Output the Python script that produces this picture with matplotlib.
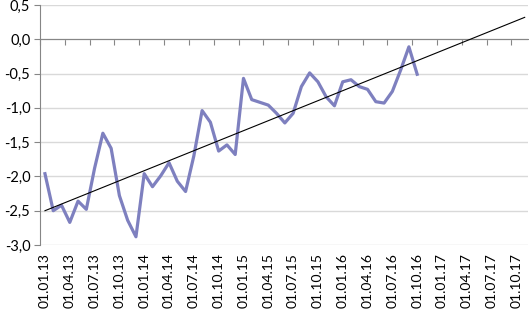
import matplotlib
matplotlib.use("Agg")
import matplotlib.pyplot as plt
import numpy as np

plt.rcParams['font.family'] = ['Lato', 'DejaVu Sans']

# monthly values, Jan 2013 .. Oct 2016
values = [-1.96, -2.50, -2.42, -2.67, -2.36, -2.48, -1.88, -1.37, -1.59, -2.28,
          -2.64, -2.88, -1.96, -2.15, -1.99, -1.80, -2.07, -2.22, -1.70, -1.04,
          -1.21, -1.63, -1.54, -1.68, -0.57, -0.88, -0.92, -0.96, -1.08, -1.22,
          -1.08, -0.69, -0.49, -0.62, -0.84, -0.97, -0.62, -0.59, -0.69, -0.73,
          -0.91, -0.93, -0.76, -0.45, -0.11, -0.51]
months = np.arange(len(values))

# linear trend (start/end)
trend_x = [0, 58]
trend_y = [-2.50, 0.32]

tick_labels = ['01.01.13', '01.04.13', '01.07.13', '01.10.13',
               '01.01.14', '01.04.14', '01.07.14', '01.10.14',
               '01.01.15', '01.04.15', '01.07.15', '01.10.15',
               '01.01.16', '01.04.16', '01.07.16', '01.10.16',
               '01.01.17', '01.04.17', '01.07.17', '01.10.17']
label_pos = np.arange(len(tick_labels)) * 3

fig = plt.figure(figsize=(5.29, 3.12), dpi=100)
ax = fig.add_axes([40/529, 1-245/312, 488/529, 240/312])

ax.plot(months, values, color='#7E80BF', lw=2.3, solid_joinstyle='round', zorder=3)
ax.plot(trend_x, trend_y, color='black', lw=0.8, zorder=4)

ax.set_ylim(-3.0, 0.5)
ax.set_xlim(-0.41, 58.4)
yt = np.arange(-3.0, 0.51, 0.5)
ax.set_yticks(yt)
ax.set_yticklabels([f"{v:.1f}".replace('.', ',') for v in yt], fontsize=10.5)
ax.yaxis.grid(True, color='#D9D9D9', lw=1)
ax.set_axisbelow(True)

for s in ['top', 'right']:
    ax.spines[s].set_visible(False)
ax.spines['left'].set_color('#868686')
ax.spines['bottom'].set_position(('data', 0))
ax.spines['bottom'].set_color('#868686')
ax.tick_params(axis='y', length=4, color='#868686', pad=3, labelcolor='black')
ax.set_xticks(label_pos - 0.6)
ax.tick_params(axis='x', length=4, color='#868686', labelbottom=False, direction='out')

sec = ax.secondary_xaxis(0.0)
sec.set_xticks(label_pos)
sec.set_xticklabels(tick_labels, rotation=90, fontsize=10)
sec.tick_params(length=0, pad=6)
sec.spines['bottom'].set_visible(False)

fig.savefig('out.png', dpi=100)
